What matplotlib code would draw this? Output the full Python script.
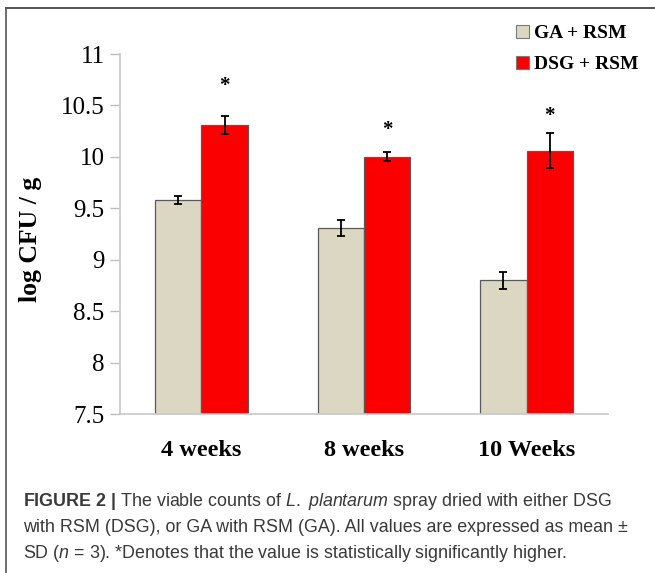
import matplotlib
matplotlib.use("Agg")
import matplotlib.pyplot as plt
import numpy as np
from matplotlib.patches import Patch
from matplotlib.lines import Line2D

categories = ["4 weeks", "8 weeks", "10 Weeks"]
series_names = ["GA + RSM", "DSG + RSM"]
ga_means = [9.58, 9.31, 8.80]
ga_sd = [0.04, 0.08, 0.08]
dsg_means = [10.31, 10.00, 10.06]
dsg_sd = [0.085, 0.045, 0.17]
star_y = [10.69, 10.26, 10.40]
yticks = [7.5, 8, 8.5, 9, 9.5, 10, 10.5, 11]
ytick_labels = ["7.5", "8", "8.5", "9", "9.5", "10", "10.5", "11"]

plt.rcParams['mathtext.fontset'] = 'custom'
plt.rcParams['mathtext.rm'] = 'Liberation Sans'
plt.rcParams['mathtext.it'] = 'Liberation Sans:italic'
plt.rcParams['mathtext.bf'] = 'Liberation Sans:bold'

W, H = 655, 573
fig = plt.figure(figsize=(W / 100, H / 100), dpi=100)

ax = fig.add_axes([120 / W, (H - 414) / H, (608 - 120) / W, (414 - 54) / H])
x = np.arange(len(categories))
bw = 0.285
serif = "Liberation Serif"

ax.bar(x - bw / 2, ga_means, bw, color="#DCD7C3", edgecolor="#5a5a5a", linewidth=0.9,
       yerr=ga_sd, error_kw=dict(ecolor="black", elinewidth=1.3, capsize=3, capthick=1.3), zorder=2)
ax.bar(x + bw / 2, dsg_means, bw, color="#FA0000", edgecolor="#5a5a5a", linewidth=0.9,
       yerr=dsg_sd, error_kw=dict(ecolor="black", elinewidth=1.3, capsize=3, capthick=1.3), zorder=2)
for xi, sy in zip(x, star_y):
    ax.text(xi + bw / 2, sy, "*", ha="center", va="center", fontsize=15,
            fontweight="bold", family=serif)

ax.set_xlim(-0.5, len(categories) - 0.5)
ax.set_ylim(7.5, 11)
ax.set_yticks(yticks)
ax.set_yticklabels(ytick_labels, family=serif, fontsize=18)
ax.set_xticks(x)
ax.set_xticklabels(categories, family=serif, fontsize=17.5, fontweight="bold")
ax.tick_params(axis="x", length=0, pad=19)
ax.tick_params(axis="y", length=7, color="#bdbdbd", width=1, pad=4)
for s in ["top", "right"]:
    ax.spines[s].set_visible(False)
ax.spines["left"].set_color("#c8c8c8")
ax.spines["bottom"].set_color("#c8c8c8")
ax.spines["left"].set_linewidth(1.2)
ax.spines["bottom"].set_linewidth(1.2)
ax.set_ylabel("log CFU / g", family=serif, fontsize=18.5, fontweight="bold")
ax.yaxis.set_label_coords((42 - 120) / 488, 0.485)

handles = [Patch(facecolor="#DCD7C3", edgecolor="#7a7a7a", linewidth=0.8),
           Patch(facecolor="#FA0000", edgecolor="#7a7a7a", linewidth=0.8)]
fig.legend(handles, series_names, loc="upper left", bbox_to_anchor=(516 / W, 1 - 25 / H),
           frameon=False, prop=dict(family=serif, weight="bold", size=14),
           handlelength=0.65, handleheight=0.65, handletextpad=0.3, labelspacing=0.7,
           borderpad=0, borderaxespad=0)

# frame lines
fig.add_artist(Line2D([6 / W, 1], [1 - 8 / H, 1 - 8 / H], color="#333333", linewidth=1.2))
fig.add_artist(Line2D([6 / W, 6 / W], [0, 1 - 8 / H], color="#555555", linewidth=1.2))

cap_lines = [
    r"$\mathbf{FIGURE\ 2\ |}$ The viable counts of $\mathit{L.}$ $\mathit{plantarum}$ spray dried with either DSG",
    "with RSM (DSG), or GA with RSM (GA). All values are expressed as mean ±",
    r"SD ($\mathit{n}$ = 3). *Denotes that the value is statistically significantly higher.",
]
for i, line in enumerate(cap_lines):
    fig.text(23 / W, 1 - (506 + 26 * i) / H, line, ha="left", va="baseline",
             fontsize=12.9, family="Liberation Sans", color="#3a3a3a")

fig.savefig("out.png", dpi=100)
